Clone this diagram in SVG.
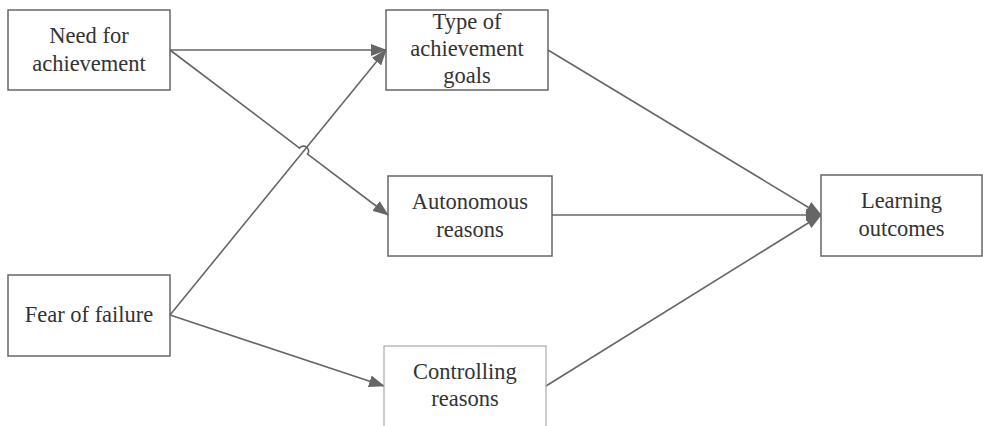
<svg xmlns="http://www.w3.org/2000/svg" width="983" height="426" viewBox="0 0 983 426">
<style>
.box{fill:#fff;stroke:#666;stroke-width:1.5}
.box2{fill:#fff;stroke:#9a9a9a;stroke-width:1}
.lbl{font-family:"Liberation Serif","Times New Roman",serif;font-size:22.5px;fill:#333;text-anchor:middle}
.con{fill:none;stroke:#666;stroke-width:1.6}
</style>
<defs>
<marker id="arr" markerUnits="userSpaceOnUse" markerWidth="16" markerHeight="12" viewBox="0 0 16 12" refX="15" refY="6" orient="auto">
<path d="M0,0 L16,6 L0,12 z" fill="#666"/>
</marker>
</defs>
<rect width="983" height="426" fill="#fff"/>
<g id="connectors">
<line class="con" x1="170" y1="50" x2="386" y2="50" marker-end="url(#arr)"/>
<path class="con" d="M170,50 L299.6,148.1 A5,5 0 0 1 307.6,154.1 L388,215" marker-end="url(#arr)"/>
<line class="con" x1="170" y1="315" x2="386" y2="50" marker-end="url(#arr)"/>
<line class="con" x1="170" y1="315" x2="384" y2="386" marker-end="url(#arr)"/>
<line class="con" x1="548" y1="50" x2="821" y2="215" marker-end="url(#arr)"/>
<line class="con" x1="552" y1="215" x2="821" y2="215" marker-end="url(#arr)"/>
<line class="con" x1="546" y1="386" x2="821" y2="215" marker-end="url(#arr)"/>
</g>
<g id="need">
<rect class="box" x="8" y="10" width="162" height="80"/>
<text class="lbl" x="89" y="43">Need for</text>
<text class="lbl" x="89" y="71">achievement</text>
</g>
<g id="fear">
<rect class="box" x="8" y="275" width="162" height="81"/>
<text class="lbl" x="89" y="322">Fear of failure</text>
</g>
<g id="type">
<rect class="box" x="386" y="10" width="162" height="80"/>
<text class="lbl" x="467" y="29">Type of</text>
<text class="lbl" x="467" y="56">achievement</text>
<text class="lbl" x="467" y="83">goals</text>
</g>
<g id="autonomous">
<rect class="box" x="388" y="176" width="164" height="80"/>
<text class="lbl" x="470" y="209">Autonomous</text>
<text class="lbl" x="470" y="237">reasons</text>
</g>
<g id="controlling">
<rect class="box2" x="384" y="346" width="162" height="90"/>
<text class="lbl" x="465" y="379">Controlling</text>
<text class="lbl" x="465" y="406">reasons</text>
</g>
<g id="learning">
<rect class="box" x="821" y="175" width="161" height="81"/>
<text class="lbl" x="901.5" y="208">Learning</text>
<text class="lbl" x="901.5" y="236">outcomes</text>
</g>
</svg>
